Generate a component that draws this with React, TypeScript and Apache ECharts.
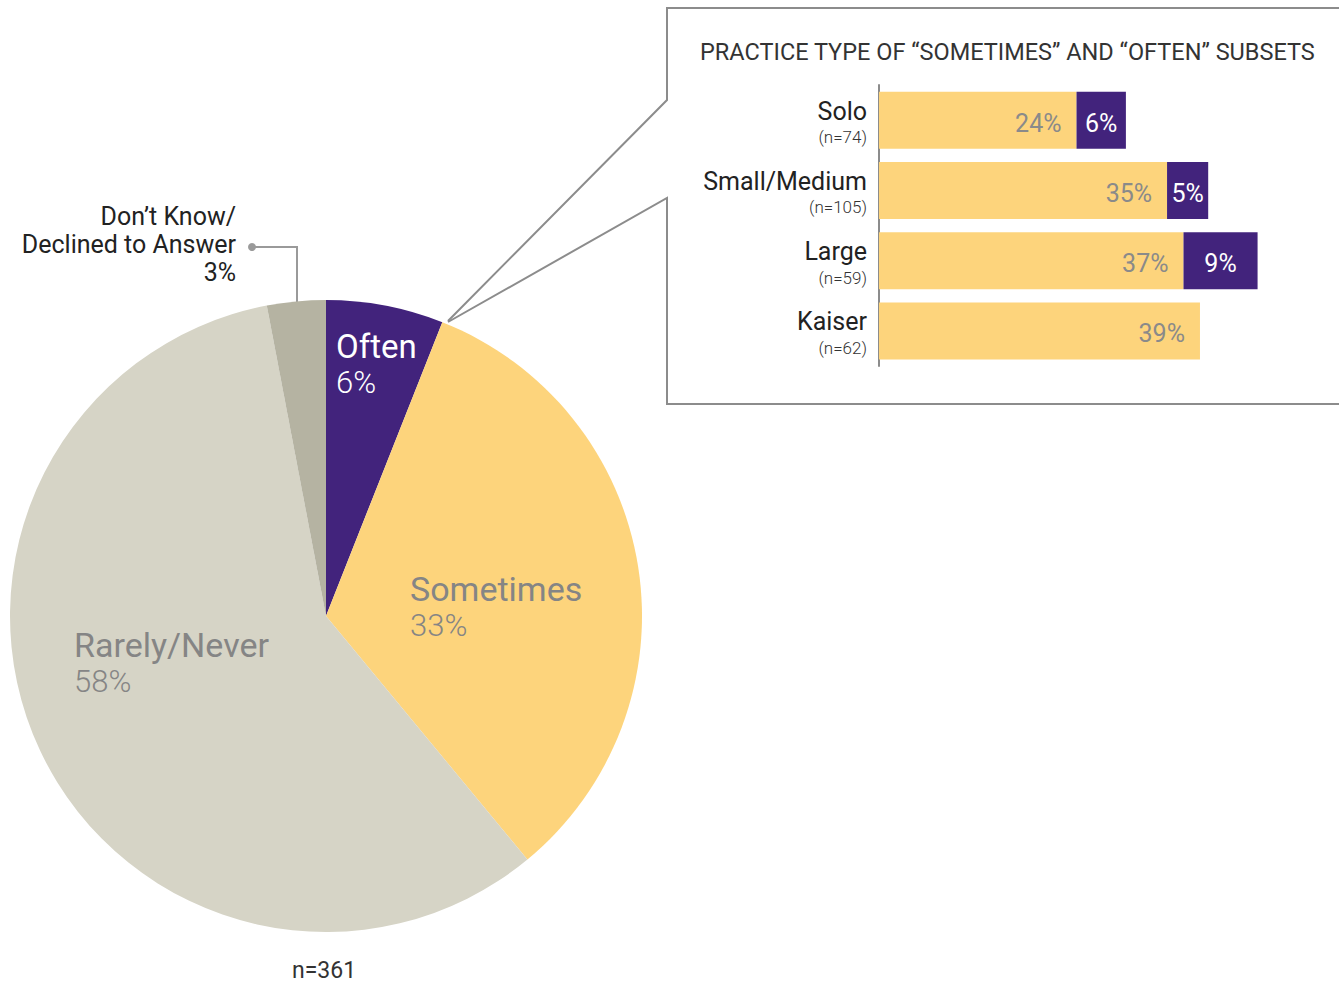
import React, { useEffect, useRef } from "react";
import * as echarts from "echarts";

const pieNames = ["Often", "Sometimes", "Rarely/Never", "Don’t Know/\nDeclined to Answer"];
const pieValues = [6, 33, 58, 3];
const pieColors = ["#42237c", "#fdd47c", "#d6d4c6", "#b5b3a2"];

const practiceTypes = ["Solo", "Small/Medium", "Large", "Kaiser"];
const practiceN = [74, 105, 59, 62];
const sometimesValues = [24, 35, 37, 39];
const oftenValues: (number | null)[] = [6, 5, 9, null];

const totalN = 361;
const title = "PRACTICE TYPE OF “SOMETIMES” AND “OFTEN” SUBSETS";

const FONT = "Roboto, 'Noto Sans', sans-serif";

export default function App() {
  const ref = useRef<HTMLDivElement>(null);
  useEffect(() => {
    document.body.style.margin = "0";
    const chart = echarts.init(ref.current!, undefined, { renderer: "svg" });
    const labelPos = [
      { x: 336, y: 364, align: "left" },
      { x: 410, y: 607, align: "left" },
      { x: 74, y: 663, align: "left" },
      { x: 236, y: 244, align: "right" },
    ];
    chart.setOption({
      animation: false,
      textStyle: { fontFamily: FONT },
      grid: { left: 879, top: 85, width: 411.5, height: 281 },
      xAxis: { type: "value", min: 0, max: 50, show: false },
      yAxis: {
        type: "category",
        data: practiceTypes,
        inverse: true,
        axisTick: { show: false },
        axisLine: { show: true, lineStyle: { color: "#8c8c8c", width: 2 } },
        axisLabel: {
          margin: 12,
          padding: [6, 0, 0, 0],
          formatter: (v: string, i: number) => `{a|${v}}\n{b|(n=${practiceN[i]})}`,
          rich: {
            a: { fontSize: 25, color: "#222", fontFamily: FONT, lineHeight: 28, align: "right" },
            b: { fontSize: 17, color: "#333", fontFamily: FONT, fontWeight: 300, lineHeight: 24, align: "right" },
          },
        },
      },
      series: [
        {
          type: "bar",
          stack: "s",
          data: sometimesValues,
          barWidth: 57,
          itemStyle: { color: "#fdd47c" },
          label: {
            show: true,
            position: "insideRight",
            distance: 15,
            offset: [0, 3],
            formatter: "{c}%",
            color: "#8a8a8a",
            fontSize: 25,
            fontFamily: FONT,
          },
        },
        {
          type: "bar",
          stack: "s",
          data: oftenValues,
          barWidth: 57,
          itemStyle: { color: "#42237c" },
          label: {
            show: true,
            position: "inside",
            offset: [0, 3],
            formatter: "{c}%",
            color: "#fff",
            fontSize: 25,
            fontFamily: FONT,
          },
        },
        {
          type: "pie",
          center: [326, 616],
          radius: 316,
          startAngle: 90,
          clockwise: true,
          silent: true,
          data: pieNames.map((n, i) => ({
            name: n,
            value: pieValues[i],
            itemStyle: { color: pieColors[i] },
            label:
              i === 3
                ? {
                    formatter: "{n|{b}}\n{n|{c}%}",
                    rich: {
                      n: { fontSize: 25, color: "#222", lineHeight: 28, align: "right", fontFamily: FONT },
                    },
                  }
                : {
                    formatter: "{n|{b}}\n{p|{c}%}",
                    rich: {
                      n: {
                        fontSize: i === 0 ? 33 : 34,
                        color: i === 0 ? "#fff" : "#858585",
                        lineHeight: 36,
                        fontFamily: FONT,
                      },
                      p: {
                        fontSize: 31,
                        fontWeight: 300,
                        color: i === 0 ? "#fff" : "#858585",
                        lineHeight: 36,
                        fontFamily: FONT,
                      },
                    },
                  },
          })),
          label: { show: true, position: "inside" },
          labelLine: { show: false },
          labelLayout: (p: any) => {
            const l = labelPos[p.dataIndex];
            return { x: l.x, y: l.y, align: l.align, verticalAlign: "middle" };
          },
        },
      ],
      graphic: [
        {
          type: "polyline",
          shape: { points: [[1345, 8], [667, 8], [667, 100], [448, 321]] },
          style: { stroke: "#8c8c8c", lineWidth: 2, fill: null },
        },
        {
          type: "polyline",
          shape: { points: [[448, 322], [667, 198], [667, 404], [1345, 404]] },
          style: { stroke: "#8c8c8c", lineWidth: 2, fill: null },
        },
        {
          type: "polyline",
          shape: { points: [[252, 247], [297, 247], [297, 308]] },
          style: { stroke: "#9a9a9a", lineWidth: 2, fill: null },
        },
        { type: "circle", shape: { cx: 252, cy: 247, r: 4 }, style: { fill: "#9a9a9a" } },
        {
          type: "text",
          x: 700,
          y: 52,
          style: {
            text: title,
            fontSize: 23.5,
            fill: "#333",
            fontFamily: FONT,
            verticalAlign: "middle",
            align: "left",
          },
        },
        {
          type: "text",
          x: 324,
          y: 970,
          style: {
            text: `n=${totalN}`,
            fontSize: 23,
            fill: "#333",
            fontFamily: FONT,
            align: "center",
            verticalAlign: "middle",
          },
        },
      ],
    });
    return () => chart.dispose();
  }, []);
  return <div ref={ref} style={{ width: 1339, height: 982 }} />;
}
